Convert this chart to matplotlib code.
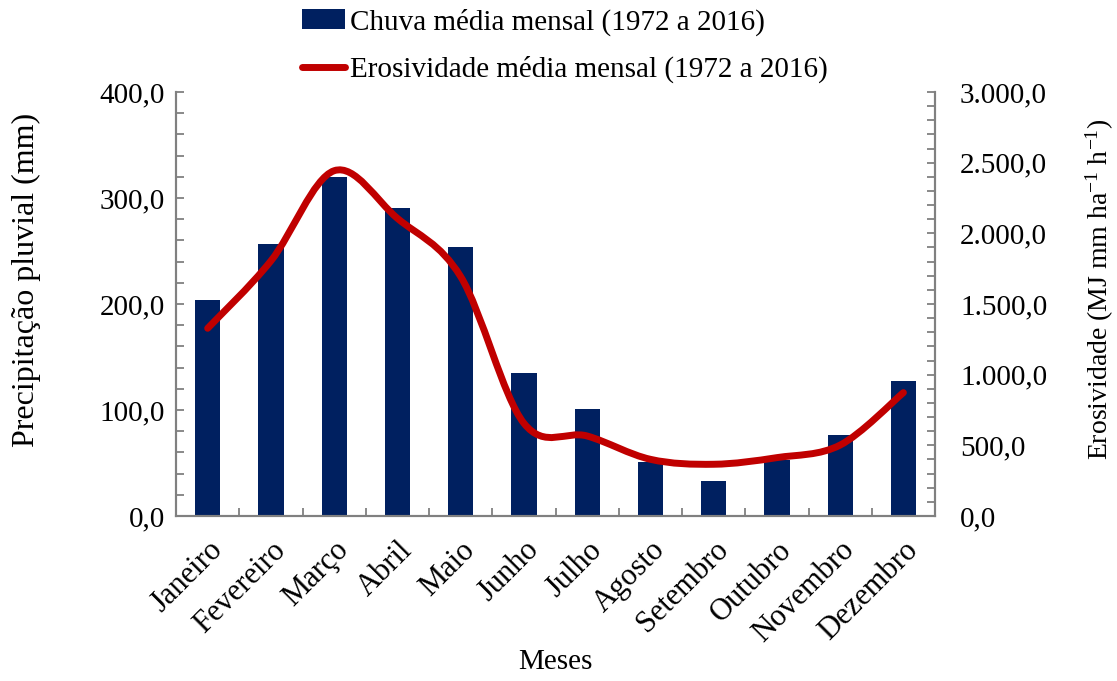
import numpy as np
import matplotlib
matplotlib.use("Agg")
import matplotlib.pyplot as plt
from matplotlib.path import Path
from matplotlib.patches import PathPatch
from matplotlib.lines import Line2D
from matplotlib.ticker import MultipleLocator, FuncFormatter

# Monthly data (1972 a 2016)
meses = ["Janeiro", "Fevereiro", "Março", "Abril", "Maio", "Junho",
         "Julho", "Agosto", "Setembro", "Outubro", "Novembro", "Dezembro"]
chuva = [204, 257, 320, 291, 254, 135, 101, 51, 33, 53, 76, 127]
erosividade = [1328, 1805, 2443, 2106, 1694, 656, 566, 401, 366, 413, 502, 873]

plt.rcParams["font.family"] = ["Liberation Serif", "DejaVu Serif"]
plt.rcParams["mathtext.fontset"] = "custom"
plt.rcParams["mathtext.rm"] = "Liberation Serif"
plt.rcParams["mathtext.it"] = "Liberation Serif:italic"

BAR_COLOR = "#002060"
LINE_COLOR = "#C00000"
AXIS_COLOR = "#808080"


def br_format(v, pos=None):
    # Portuguese number format: 3.000,0
    s = f"{v:,.1f}"
    return s.replace(",", "X").replace(".", ",").replace("X", ".")


def smooth_path(xs, ys):
    """Excel-like smoothed line as cubic Bezier segments."""
    pts = np.column_stack([xs, ys]).astype(float)
    n = len(pts)
    verts = [pts[0]]
    codes = [Path.MOVETO]
    for i in range(n - 1):
        p0 = pts[i - 1] if i > 0 else pts[i]
        p1 = pts[i]
        p2 = pts[i + 1]
        p3 = pts[i + 2] if i + 2 < n else pts[i + 1]
        c1 = p1 + (p2 - p0) / 6.0
        c2 = p2 - (p3 - p1) / 6.0
        verts += [c1, c2, p2]
        codes += [Path.CURVE4] * 3
    return Path(verts, codes)


fig = plt.figure(figsize=(11.17, 6.81), dpi=100)
ax = fig.add_axes([0.1576, 0.2423, 0.6795, 0.6226])
ax2 = ax.twinx()

x = np.arange(len(meses))
bars = ax.bar(x, chuva, width=0.4, color=BAR_COLOR, zorder=2)

ax.set_xlim(-0.5, len(meses) - 0.5)
ax.set_ylim(0, 400)
ax2.set_ylim(0, 3000)

patch = PathPatch(smooth_path(x, erosividade), facecolor="none",
                  edgecolor=LINE_COLOR, lw=5, capstyle="round",
                  joinstyle="round", zorder=3)
ax2.add_patch(patch)

# ticks
ax.yaxis.set_major_locator(MultipleLocator(100))
ax.yaxis.set_minor_locator(MultipleLocator(20))
ax2.yaxis.set_major_locator(MultipleLocator(500))
ax2.yaxis.set_minor_locator(MultipleLocator(100))
ax.yaxis.set_major_formatter(FuncFormatter(br_format))
ax2.yaxis.set_major_formatter(FuncFormatter(br_format))
ax.set_xticks(x)
ax.set_xticks(np.arange(-0.5, len(meses), 1.0), minor=True)
ax.set_xticklabels(meses, rotation=45, ha="right", va="top",
                   rotation_mode="anchor")

for a in (ax, ax2):
    for s in a.spines.values():
        s.set_color(AXIS_COLOR)
        s.set_linewidth(1.5)
    a.tick_params(which="both", direction="in", length=6, width=1.3,
                  color=AXIS_COLOR, labelsize=21, labelcolor="black")
ax.spines["top"].set_visible(False)
ax2.spines["top"].set_visible(False)
ax.tick_params(axis="x", which="both", pad=14, labelsize=22)
ax.tick_params(axis="y", which="both", right=False, pad=8)
ax2.tick_params(axis="y", which="both", pad=18)

ax.set_ylabel("Precipitação pluvial (mm)", fontsize=23, va="center")
ax.yaxis.set_label_coords(-0.197, 0.557)
ax.set_xlabel("Meses", fontsize=21, va="center")
ax.xaxis.set_label_coords(0.5, -0.344)
ax2.set_ylabel(r"Erosividade (MJ mm ha$^{-1}$ h$^{-1}$)", fontsize=20,
               va="center")
ax2.yaxis.set_label_coords(1.217, 0.535)

handles = [bars.patches[0],
           Line2D([], [], color=LINE_COLOR, lw=5, solid_capstyle="round")]
labels = ["Chuva média mensal (1972 a 2016)",
          "Erosividade média mensal (1972 a 2016)"]
fig.legend(handles, labels, loc="upper left", bbox_to_anchor=(0.27, 0.988),
           frameon=False, fontsize=21, handlelength=1.5, handletextpad=0.17,
           labelspacing=0.7, borderaxespad=0, borderpad=0)

fig.savefig("out.png", dpi=100)
